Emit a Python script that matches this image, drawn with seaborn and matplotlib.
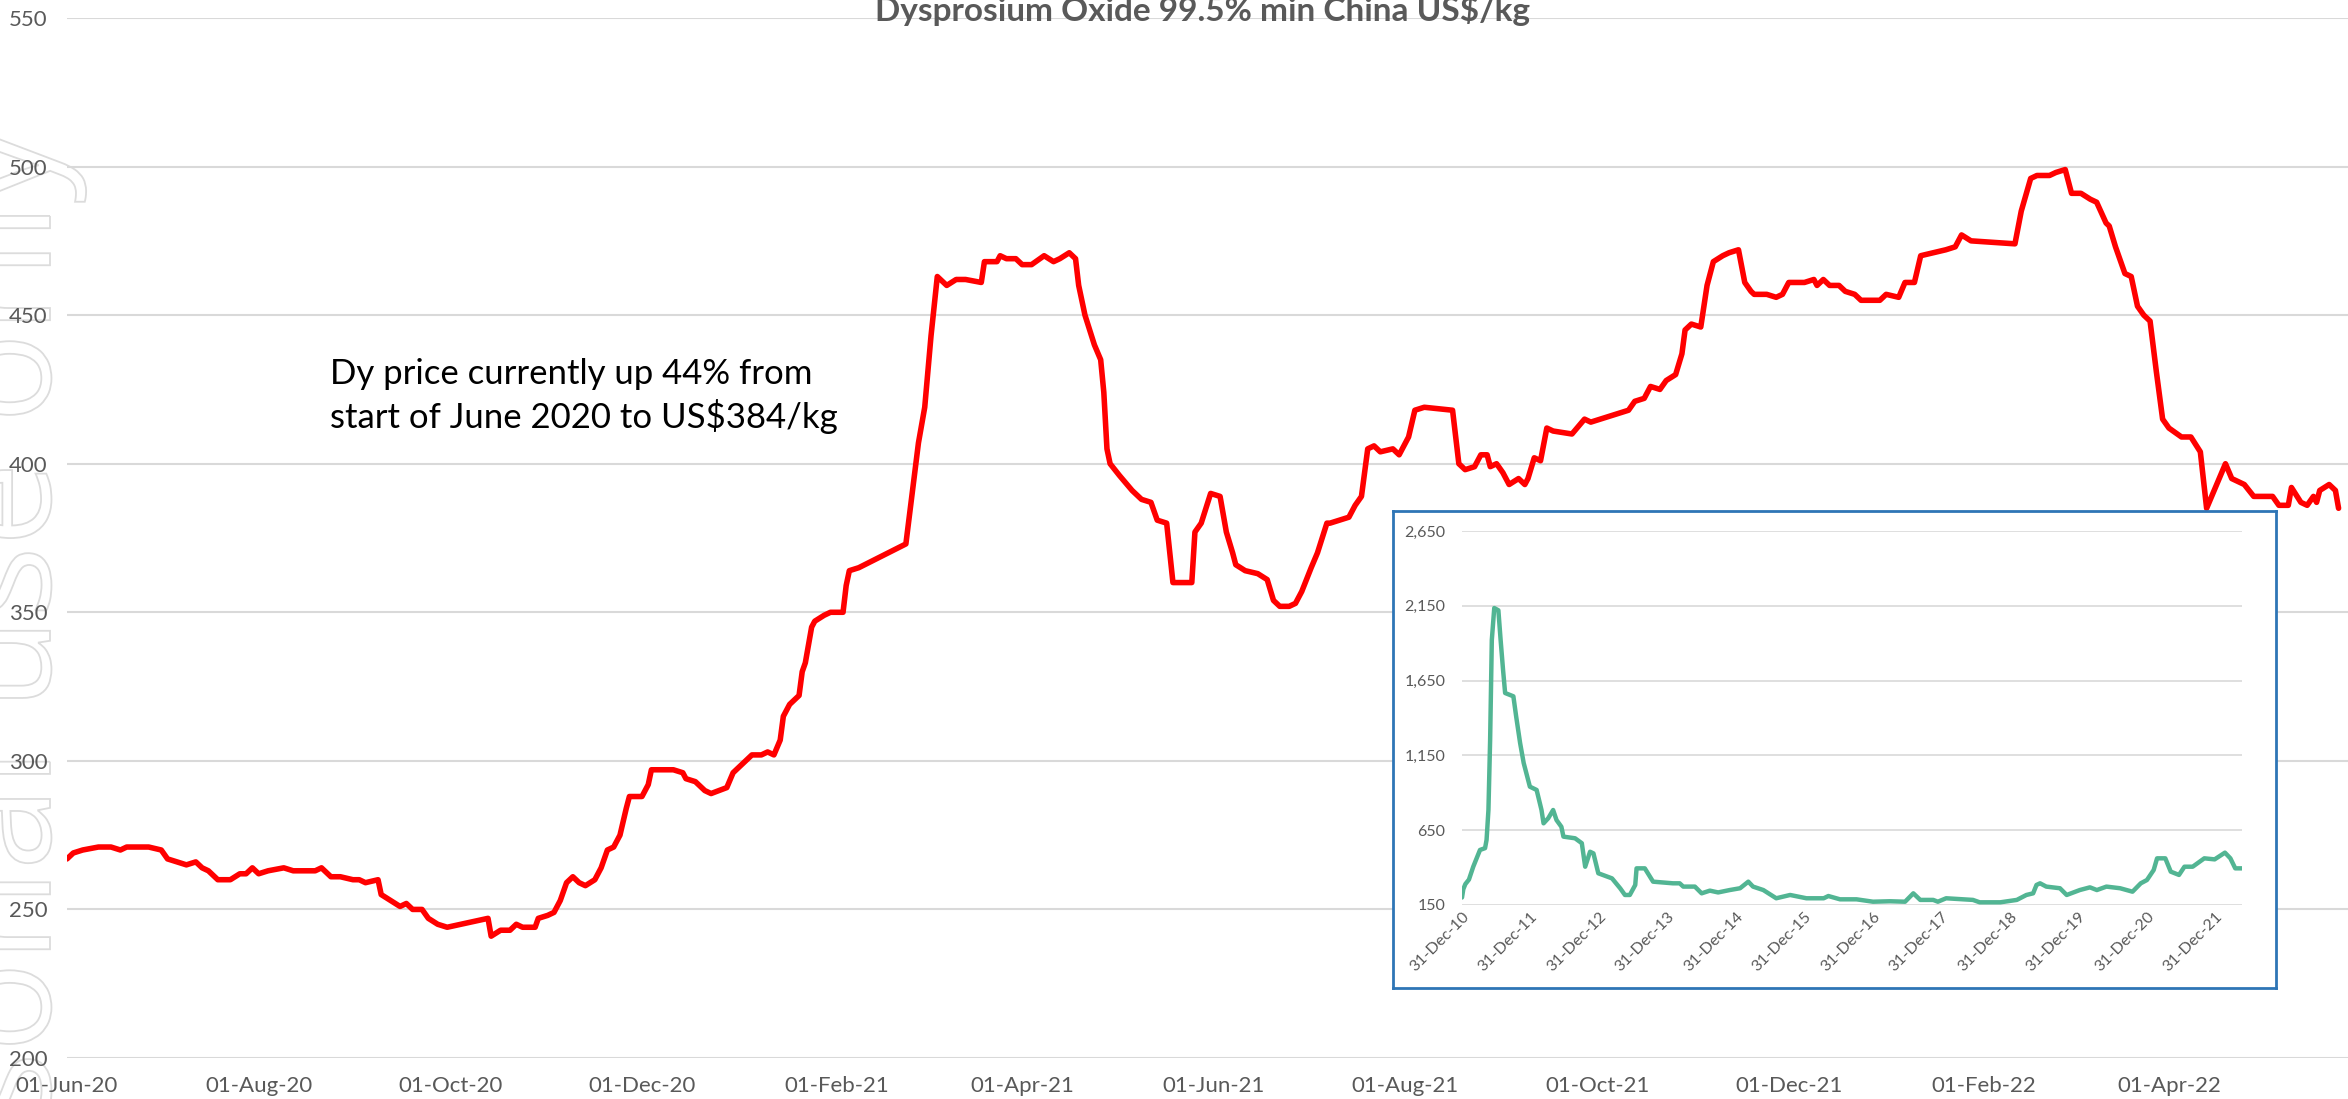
"""
Dysprosium oxide price chart with long-term inset
"""

import pandas as pd
import matplotlib
matplotlib.use('Agg')
import matplotlib.pyplot as plt
import matplotlib.dates as mdates
from matplotlib.textpath import TextPath
from matplotlib.patches import PathPatch
from matplotlib.font_manager import FontProperties
from matplotlib.transforms import Affine2D
import seaborn as sns

# main series: days after 01-Jun-2020, price in US$/kg
main_start = '2020-06-01'
main_days = [0, 2, 5, 10, 14, 17, 19, 26, 30, 32, 35, 38, 41, 43, 45, 48, 52, 55, 57, 59,
             61, 64, 69, 72, 79, 81, 84, 87, 91, 93, 95, 99, 100, 103, 106, 108, 110, 113, 115, 118,
             121, 134, 135, 138, 141, 143, 145, 149, 150, 153, 155, 157, 159, 161, 163, 165, 168, 170, 172, 174,
             176, 178, 179, 183, 185, 186, 191, 193, 196, 197, 200, 203, 205, 210, 212, 215, 218, 221, 223, 225,
             227, 228, 230, 233, 234, 235, 237, 238, 241, 243, 247, 248, 249, 252, 267, 269, 271, 273, 275, 277,
             280, 283, 286, 291, 292, 296, 297, 299, 302, 304, 307, 311, 314, 316, 319, 321, 322, 324, 327, 329,
             330, 331, 332, 335, 339, 342, 345, 347, 350, 352, 358, 359, 361, 364, 367, 369, 371, 372, 375, 379,
             382, 384, 386, 389, 391, 393, 396, 398, 401, 402, 405, 408, 410, 412, 414, 416, 418, 422, 424, 427,
             429, 432, 441, 443, 445, 448, 450, 452, 453, 455, 457, 459, 462, 464, 465, 467, 469, 471, 473, 479,
             483, 485, 497, 499, 502, 504, 507, 509, 512, 514, 515, 517, 520, 522, 524, 527, 529, 532, 534, 536,
             537, 541, 544, 546, 548, 553, 556, 557, 559, 561, 564, 566, 569, 571, 577, 579, 583, 585, 588, 590,
             594, 598, 601, 603, 606, 620, 622, 625, 627, 631, 633, 636, 638, 641, 644, 646, 649, 650, 652, 655,
             657, 659, 661, 663, 665, 667, 669, 673, 676, 679, 681, 687, 689, 693, 696, 702, 704, 707, 708, 711,
             713, 715, 716, 717, 720, 722, 723]
main_price = [267, 269, 270, 271, 271, 270, 271, 271, 270, 267, 266, 265, 266, 264, 263, 260, 260, 262, 262, 264,
              262, 263, 264, 263, 263, 264, 261, 261, 260, 260, 259, 260, 255, 253, 251, 252, 250, 250, 247, 245,
              244, 247, 241, 243, 243, 245, 244, 244, 247, 248, 249, 253, 259, 261, 259, 258, 260, 264, 270, 271,
              275, 284, 288, 288, 292, 297, 297, 297, 296, 294, 293, 290, 289, 291, 296, 299, 302, 302, 303, 302,
              307, 315, 319, 322, 330, 333, 345, 347, 349, 350, 350, 359, 364, 365, 373, 390, 407, 419, 443, 463,
              460, 462, 462, 461, 468, 468, 470, 469, 469, 467, 467, 470, 468, 469, 471, 469, 460, 450, 440, 435,
              424, 405, 400, 396, 391, 388, 387, 381, 380, 360, 360, 377, 380, 390, 389, 377, 370, 366, 364, 363,
              361, 354, 352, 352, 353, 357, 365, 370, 380, 380, 381, 382, 386, 389, 405, 406, 404, 405, 403, 409,
              418, 419, 418, 400, 398, 399, 403, 403, 399, 400, 397, 393, 395, 393, 395, 402, 401, 412, 411, 410,
              415, 414, 418, 421, 422, 426, 425, 428, 430, 437, 445, 447, 446, 460, 468, 470, 471, 472, 461, 458,
              457, 457, 456, 457, 461, 461, 462, 460, 462, 460, 460, 458, 457, 455, 455, 457, 456, 461, 461, 470,
              471, 472, 473, 477, 475, 474, 485, 496, 497, 497, 498, 499, 491, 491, 489, 488, 481, 480, 473, 464,
              463, 453, 450, 448, 431, 415, 412, 409, 409, 404, 385, 400, 395, 393, 389, 389, 386, 386, 392, 387,
              386, 389, 387, 391, 393, 391, 385]

# inset series: days after 31-Dec-2010, price in US$/kg
hist_start = '2010-12-31'
hist_days = [0, 7, 18, 37, 60, 96, 123, 131, 141, 150, 159, 172, 194, 206, 219, 230, 274, 289, 310, 329,
             362, 398, 424, 435, 460, 486, 504, 530, 541, 603, 639, 657, 683, 701, 727, 800, 844, 869, 895, 924,
             931, 975, 1019, 1125, 1161, 1180, 1242, 1278, 1322, 1366, 1428, 1483, 1527, 1552, 1607, 1676, 1750, 1837, 1929, 1954,
             2016, 2104, 2192, 2283, 2363, 2407, 2444, 2513, 2538, 2582, 2725, 2761, 2871, 2959, 3010, 3046, 3064, 3083, 3116, 3189,
             3225, 3295, 3349, 3386, 3437, 3510, 3576, 3620, 3653, 3689, 3707, 3751, 3780, 3824, 3853, 3897, 3959, 4014, 4069, 4098,
             4124, 4167]
hist_price = [200, 256, 290, 320, 406, 518, 530, 585, 785, 1253, 1921, 2135, 2120, 1921, 1721, 1567, 1545, 1409, 1232, 1099,
              941, 919, 785, 696, 730, 785, 718, 673, 607, 596, 563, 406, 506, 495, 362, 328, 261, 217, 217, 284,
              395, 395, 306, 295, 295, 273, 273, 228, 246, 234, 250, 262, 306, 273, 250, 195, 217, 195, 195, 210,
              188, 188, 172, 175, 172, 228, 184, 184, 172, 195, 184, 168, 168, 184, 217, 228, 284, 295, 273, 262,
              217, 250, 268, 250, 273, 262, 239, 295, 317, 384, 462, 462, 373, 351, 406, 406, 462, 455, 500, 462,
              395, 395]

title_text = 'Dysprosium Oxide 99.5% min China US$/kg'
note_text = 'Dy price currently up 44% from\nstart of June 2020 to US$384/kg'
watermark_text = 'For personal use only'
main_yticks = [200, 250, 300, 350, 400, 450, 500, 550]
hist_yticks = [150, 650, 1150, 1650, 2150, 2650]

W, H = 2348, 1099


def box(left, top, right, bottom):
    """pixel box (from top-left) to figure fraction rect"""
    return [left / W, 1 - bottom / H, (right - left) / W, (bottom - top) / H]


main_df = pd.DataFrame({'date': pd.Timestamp(main_start) + pd.to_timedelta(main_days, unit='D'),
                        'price': main_price})
hist_df = pd.DataFrame({'date': pd.Timestamp(hist_start) + pd.to_timedelta(hist_days, unit='D'),
                        'price': hist_price})

sns.set_theme(style='white')
plt.rcParams['font.family'] = ['Lato', 'DejaVu Sans']

fig = plt.figure(figsize=(W / 100, H / 100), dpi=100)
fig.patch.set_facecolor('white')

# outlined watermark down the left edge
tp = TextPath((0, 0), watermark_text, size=150, prop=FontProperties(family='Open Sans'))
ext = tp.get_extents()
trans = Affine2D().rotate_deg(90).translate(50, (H - 128) - ext.x1)
fig.add_artist(PathPatch(tp, transform=trans, facecolor='none', edgecolor='#dcdcdc',
                         linewidth=1.3, zorder=-5))

grid_col = '#d9d9d9'
text_col = '#595959'

# main chart
ax = fig.add_axes(box(67, 18, 2348, 1058))
ax.set_facecolor('none')
sns.lineplot(data=main_df, x='date', y='price', estimator=None, color='#ff0000', linewidth=4,
             solid_joinstyle='round', ax=ax)
ax.set_xlim(pd.Timestamp('2020-06-01'), pd.Timestamp('2022-05-28'))
ax.set_ylim(200, 550)
ax.set_yticks(main_yticks)
ax.set_xticks(pd.date_range('2020-06-01', '2022-04-01', freq='2MS'))
ax.xaxis.set_major_formatter(mdates.DateFormatter('%d-%b-%y'))
ax.yaxis.grid(True, color=grid_col, linewidth=1.5)
ax.xaxis.grid(False)
sns.despine(ax=ax, left=True, bottom=True)
ax.tick_params(axis='both', length=0, labelsize=16, colors=text_col)
ax.tick_params(axis='y', pad=14)
ax.tick_params(axis='x', pad=13)
ax.set_xlabel('')
ax.set_ylabel('')

fig.text(1203 / W, 1 - 21 / H, title_text, ha='center', va='baseline', fontsize=24,
         fontweight='bold', color=text_col)
fig.text(330 / W, 1 - 396 / H, note_text, ha='left', va='center', fontsize=25,
         color='black', linespacing=1.3)

# inset frame
frame = fig.add_axes(box(1393, 511, 2276, 988))
frame.set_facecolor('white')
frame.set_xticks([])
frame.set_yticks([])
for s in frame.spines.values():
    s.set_color('#2e75b6')
    s.set_linewidth(2)

# inset chart
ins = fig.add_axes(box(1462, 531, 2242, 905))
ins.set_facecolor('none')
sns.lineplot(data=hist_df, x='date', y='price', estimator=None, color='#52b593', linewidth=3.2,
             solid_joinstyle='round', ax=ins)
ins.set_xlim(pd.Timestamp('2010-12-31'), pd.Timestamp('2022-05-22'))
ins.set_ylim(150, 2650)
ins.set_yticks(hist_yticks)
ins.yaxis.set_major_formatter(matplotlib.ticker.StrMethodFormatter('{x:,.0f}'))
ins.set_xticks(pd.date_range('2010-12-31', '2021-12-31', freq='YE'))
ins.xaxis.set_major_formatter(mdates.DateFormatter('%d-%b-%y'))
ins.yaxis.grid(True, color=grid_col, linewidth=1.2)
ins.xaxis.grid(False)
sns.despine(ax=ins, left=True, bottom=True)
ins.tick_params(axis='both', length=0, labelsize=11.5, colors=text_col)
ins.tick_params(axis='y', pad=12)
plt.setp(ins.get_xticklabels(), rotation=45, ha='right', rotation_mode='anchor')
ins.set_xlabel('')
ins.set_ylabel('')

fig.savefig('out.png', dpi=100, facecolor='white')
